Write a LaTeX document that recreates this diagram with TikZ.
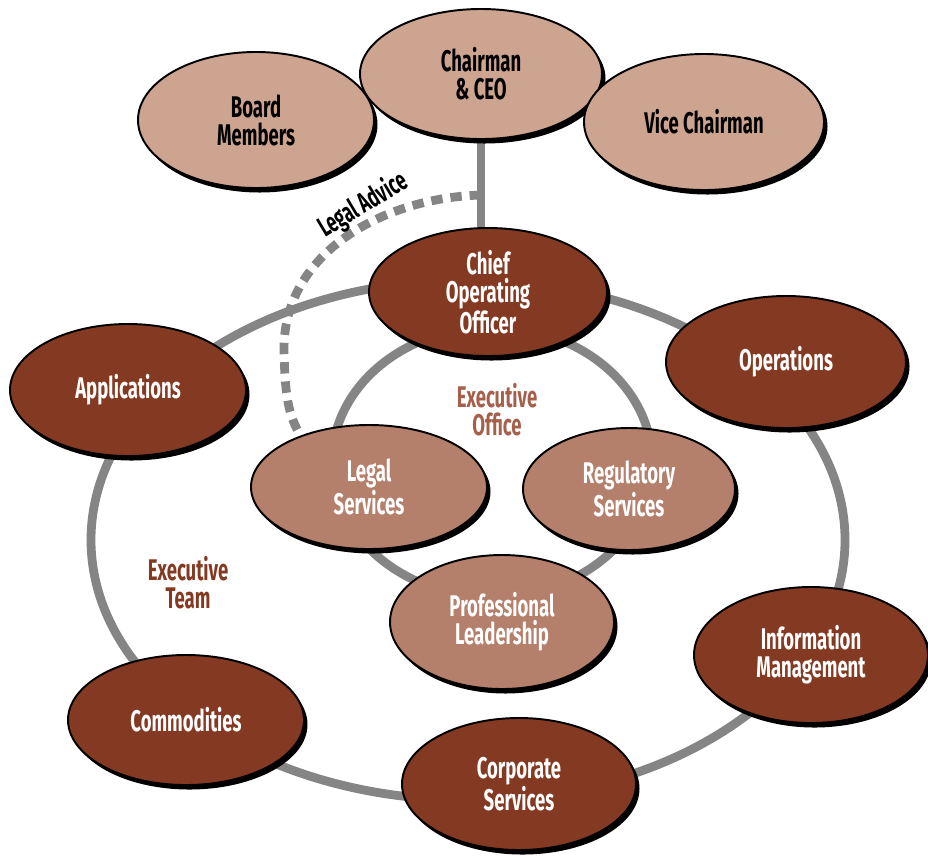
\documentclass[tikz,border=0pt]{standalone}
\usepackage{fontspec}
\setmainfont{Fira Sans}[FakeStretch=0.62]
\usetikzlibrary{shapes.geometric,shadows,backgrounds}

\definecolor{tan}{RGB}{205,164,144}
\definecolor{rust}{RGB}{132,58,34}
\definecolor{clay}{RGB}{180,128,108}
\definecolor{ring}{RGB}{133,133,133}
\definecolor{officetext}{RGB}{165,95,75}

\tikzset{dims/.style 2 args={minimum width=#1*0.4mm, minimum height=#2*0.4mm}}

\begin{document}
\begin{tikzpicture}[x=0.2mm,y=-0.2mm]
        \tikzstyle{every node} = [font=\bfseries\fontsize{17}{16}\selectfont, align=center]
        \tikzstyle{unit} = [ellipse, draw=black, line width=1.1pt, inner sep=0pt,
            drop shadow={fill=black, opacity=1, shadow xshift=0.7mm, shadow yshift=-0.9mm}]
        \tikzstyle{board} = [unit, fill=tan, text=black]
        \tikzstyle{team} = [unit, fill=rust, text=white]
        \tikzstyle{office} = [unit, fill=clay, text=white]
        \tikzstyle{link} = [draw=ring, line width=5pt]
        \useasboundingbox (0,0) rectangle (928,858);

        \node[board, dims={118}{68}] (board) at (256,120) {Board\\Members};
        \node[board, dims={121}{65}] (ceo) at (481,74) {Chairman\\\& CEO};
        \node[board, dims={120}{68}] (vice) at (704,122) {Vice Chairman};
        \node[team, dims={119}{64}] (coo) at (488,292) {Chief\\Operating\\Officer};
        \node[team, dims={120}{66}] (ops) at (786,362) {Operations};
        \node[team, dims={118}{66}] (apps) at (128,390) {Applications};
        \node[office, dims={118}{62}] (legal) at (369,487) {Legal\\Services};
        \node[office, dims={106}{61}] (reg) at (629,489) {Regulatory\\Services};
        \node[office, dims={112}{67}] (prof) at (502,622) {Professional\\Leadership};
        \node[team, dims={117}{68}] (info) at (811,655) {Information\\Management};
        \node[team, dims={118}{65}] (comm) at (186,720) {Commodities};
        \node[team, dims={117}{66}] (corp) at (519,784) {Corporate\\Services};

        \node[text=officetext] (eo) at (497,410) {Executive\\Office};
        \node[text=rust] (et) at (188,583) {Executive\\Team};
        \node[rotate=31, font=\bfseries\fontsize{16}{16}\selectfont] (advice label) at (363,205) {Legal Advice};

        \coordinate (advice) at (ceo |- 0,195);

        \begin{scope}[on background layer]
            \draw[link] (468,540) ellipse [x radius=377, y radius=260];
            \draw[link] (492,462) ellipse [x radius=160, y radius=135];
            \draw[link] (ceo.south) -- (ceo |- coo);
            \draw[link, dash pattern=on 6.5pt off 4.5pt] (advice)
                .. controls (380,198) and (283,255) .. (284,350)
                .. controls (285,395) and (288,415) .. (legal.143);
        \end{scope}
\end{tikzpicture}
\end{document}
